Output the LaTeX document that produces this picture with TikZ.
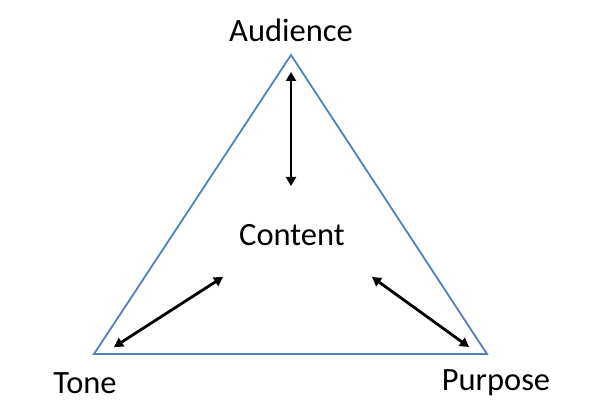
\documentclass[tikz,border=0pt]{standalone}
\usepackage{fontspec}
\setmainfont{Carlito}
\usetikzlibrary{arrows.meta}
\definecolor{triblue}{HTML}{4F81BD}
\begin{document}
\begin{tikzpicture}[x=1pt,y=-1pt,
  lbl/.style={font=\fontsize{32.5}{38}\selectfont, inner sep=0pt},
  tri/.style={draw=triblue, line width=1.8pt, line join=miter},
  dbl/.style={draw=black, line width=2.8pt, {Triangle[length=9pt,width=10pt]}-{Triangle[length=9pt,width=10pt]}}]
\useasboundingbox (0,0) rectangle (599,403);
\coordinate (A) at (291,55);
\coordinate (L) at (94,354);
\coordinate (R) at (487,354);
\draw[tri] (A) -- (L) -- (R) -- cycle;
\node[lbl] (aud) at (291,30) {Audience};
\node[lbl] (con) at (292,235) {Content};
\node[lbl] (tone) at (85,383) {Tone};
\node[lbl] (pur) at (496,383) {Purpose};
\coordinate (v1) at (291,72);
\coordinate (v2) at (291,186);
\coordinate (l1) at (114,347);
\coordinate (l2) at (223,277);
\coordinate (r1) at (372,277);
\coordinate (r2) at (469,347);
\draw[dbl] (v1) -- (v2);
\draw[dbl] (l1) -- (l2);
\draw[dbl] (r1) -- (r2);
\end{tikzpicture}
\end{document}
